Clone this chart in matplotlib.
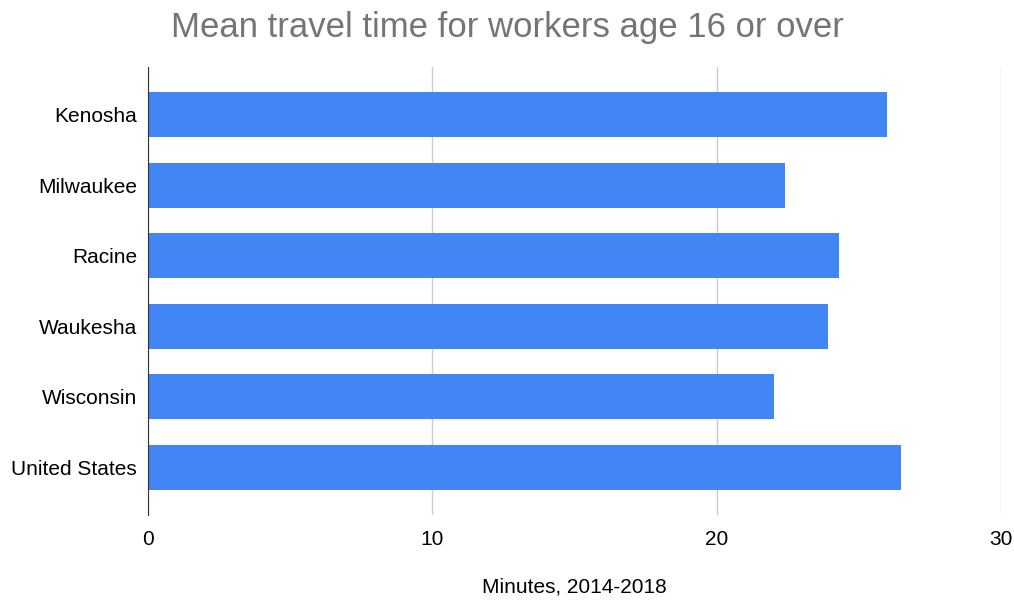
import matplotlib.pyplot as plt

# Mean travel time to work, 2014-2018
places = ["Kenosha", "Milwaukee", "Racine", "Waukesha", "Wisconsin", "United States"]
minutes = [26.0, 22.4, 24.3, 23.9, 22.0, 26.5]
xticks = [0, 10, 20, 30]

plt.rcParams['font.family'] = ['Liberation Sans', 'DejaVu Sans']

fig = plt.figure(figsize=(10.14, 6.0), dpi=100)
ax = fig.add_axes([148 / 1014, 85 / 600, 853 / 1014, 448 / 600])

ypos = list(range(len(places)))
ax.barh(ypos, minutes, height=0.64, color="#4285F4", zorder=3)

ax.set_xlim(0, 30)
ax.set_ylim(len(places) - 0.32, -0.68)
ax.set_yticks(ypos)
ax.set_yticklabels(places, fontsize=15)
ax.set_xticks(xticks)
ax.set_xticklabels([str(t) for t in xticks], fontsize=15)
ax.tick_params(axis="both", length=0)
ax.tick_params(axis="y", pad=8)
ax.tick_params(axis="x", pad=11)

ax.grid(axis="x", color="#cccccc", linewidth=1, zorder=0)
for s in ["top", "right", "bottom"]:
    ax.spines[s].set_visible(False)
ax.spines["left"].set_color("#333333")
ax.spines["left"].set_zorder(4)

ax.set_xlabel("Minutes, 2014-2018", fontsize=15, labelpad=20)
fig.text(0.5, 0.955, "Mean travel time for workers age 16 or over",
         ha="center", va="center", fontsize=25, color="#757575")

fig.savefig("out.png", dpi=100)
